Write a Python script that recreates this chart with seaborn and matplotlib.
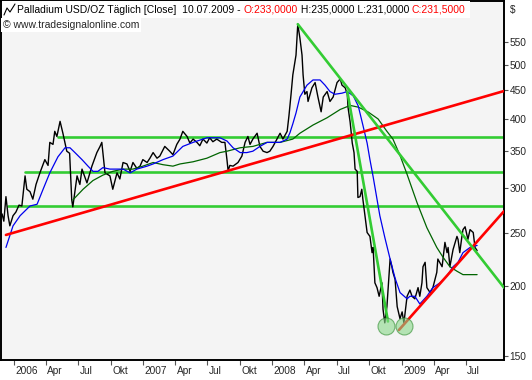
import matplotlib
matplotlib.use("Agg")
import matplotlib.pyplot as plt
import matplotlib.transforms as mtransforms
from matplotlib.lines import Line2D
from matplotlib.patches import Rectangle
import seaborn as sns
import pandas as pd

# Palladium USD/OZ daily close
price_dates = [
    "2005-11-28", "2005-12-03", "2005-12-09", "2005-12-15", "2005-12-20", "2005-12-29",
    "2006-01-06", "2006-01-15", "2006-01-23", "2006-02-01", "2006-02-06", "2006-02-15",
    "2006-02-23", "2006-03-04", "2006-03-15", "2006-03-29", "2006-04-07", "2006-04-12",
    "2006-04-21", "2006-04-26", "2006-05-02", "2006-05-11", "2006-05-19", "2006-05-30",
    "2006-06-07", "2006-06-13", "2006-06-16", "2006-06-28", "2006-07-06", "2006-07-12",
    "2006-07-26", "2006-08-09", "2006-08-23", "2006-09-01", "2006-09-06", "2006-09-15",
    "2006-09-29", "2006-10-07", "2006-10-19", "2006-10-27", "2006-11-05", "2006-11-16",
    "2006-11-25", "2006-12-03", "2006-12-14", "2006-12-23", "2006-12-31", "2007-01-12",
    "2007-01-20", "2007-01-29", "2007-02-09", "2007-02-17", "2007-03-03", "2007-03-17",
    "2007-03-26", "2007-04-06", "2007-04-15", "2007-04-23", "2007-05-05", "2007-05-13",
    "2007-05-22", "2007-06-02", "2007-06-10", "2007-06-19", "2007-06-30", "2007-07-08",
    "2007-07-17", "2007-07-28", "2007-08-11", "2007-08-20", "2007-08-26", "2007-08-29",
    "2007-09-03", "2007-09-12", "2007-09-26", "2007-10-07", "2007-10-16", "2007-10-24",
    "2007-10-30", "2007-11-07", "2007-11-19", "2007-11-27", "2007-12-06", "2007-12-17",
    "2007-12-25", "2008-01-03", "2008-01-14", "2008-01-23", "2008-01-31", "2008-02-12",
    "2008-02-17", "2008-02-23", "2008-02-28", "2008-03-08", "2008-03-13", "2008-03-19",
    "2008-03-25", "2008-03-28", "2008-04-02", "2008-04-08", "2008-04-11", "2008-04-22",
    "2008-05-01", "2008-05-09", "2008-05-18", "2008-05-24", "2008-06-04", "2008-06-12",
    "2008-06-21", "2008-07-02", "2008-07-11", "2008-07-16", "2008-07-25", "2008-07-31",
    "2008-08-02", "2008-08-08", "2008-08-14", "2008-08-19", "2008-08-22", "2008-08-28",
    "2008-08-30", "2008-09-05", "2008-09-10", "2008-09-13", "2008-09-25", "2008-10-03",
    "2008-10-09", "2008-10-12", "2008-10-17", "2008-10-23", "2008-10-29", "2008-11-06",
    "2008-11-09", "2008-11-14", "2008-11-20", "2008-11-29", "2008-12-04", "2008-12-07",
    "2008-12-13", "2008-12-19", "2008-12-27", "2009-01-02", "2009-01-07", "2009-01-16",
    "2009-01-24", "2009-01-30", "2009-02-07", "2009-02-16", "2009-02-21", "2009-02-27",
    "2009-03-02", "2009-03-08", "2009-03-13", "2009-03-22", "2009-03-30", "2009-04-10",
    "2009-04-13", "2009-04-25", "2009-05-03", "2009-05-09", "2009-05-12", "2009-05-17",
    "2009-05-26", "2009-06-06", "2009-06-09", "2009-06-14", "2009-06-20", "2009-06-23",
    "2009-06-29", "2009-07-07", "2009-07-13", "2009-07-22", "2009-07-27", "2009-08-02",
]
price_values = [
    270, 262, 290, 268, 257, 268,
    272, 280, 279, 316, 299, 296,
    287, 305, 320, 338, 330, 363,
    360, 380, 372, 396, 377, 350,
    347, 286, 278, 316, 305, 325,
    307, 329, 348, 357, 363, 320,
    316, 299, 320, 312, 334, 332,
    322, 334, 326, 329, 338, 334,
    340, 348, 340, 343, 357, 350,
    345, 360, 368, 380, 372, 362,
    368, 363, 358, 368, 362, 370,
    364, 368, 363, 363, 337, 323,
    330, 329, 334, 343, 363, 372,
    360, 368, 377, 357, 350, 348,
    350, 357, 368, 377, 368, 380,
    405, 443, 480, 521, 592, 559,
    521, 480, 443, 448, 430, 455,
    465, 438, 412, 438, 448, 430,
    438, 465, 472, 460, 455, 443,
    420, 395, 362, 348, 325, 322,
    289, 290, 299, 287, 250, 246,
    230, 235, 203, 199, 192, 203,
    182, 172, 184, 224, 217, 212,
    206, 184, 175, 180, 172, 192,
    197, 192, 190, 199, 192, 203,
    217, 221, 199, 195, 199, 212,
    224, 217, 240, 230, 235, 217,
    233, 246, 243, 230, 246, 253,
    256, 243, 253, 250, 235, 232,
]

# short moving average (blue)
ma_fast_dates = [
    "2005-12-09", "2005-12-29", "2006-01-18", "2006-02-15", "2006-03-07", "2006-03-24",
    "2006-04-12", "2006-05-05", "2006-05-25", "2006-06-08", "2006-06-22", "2006-07-12",
    "2006-07-29", "2006-08-12", "2006-08-26", "2006-09-09", "2006-09-29", "2006-10-19",
    "2006-11-05", "2006-11-25", "2006-12-14", "2007-01-12", "2007-01-29", "2007-02-26",
    "2007-03-26", "2007-04-23", "2007-05-22", "2007-06-30", "2007-08-06", "2007-08-26",
    "2007-09-12", "2007-10-02", "2007-10-21", "2007-11-07", "2007-11-27", "2007-12-17",
    "2008-01-03", "2008-01-23", "2008-02-12", "2008-02-20", "2008-02-28", "2008-03-08",
    "2008-03-19", "2008-04-08", "2008-04-25", "2008-05-15", "2008-05-29", "2008-06-12",
    "2008-06-26", "2008-07-16", "2008-07-31", "2008-08-17", "2008-08-31", "2008-09-13",
    "2008-09-25", "2008-10-03", "2008-10-12", "2008-10-31", "2008-11-14", "2008-11-29",
    "2008-12-13", "2008-12-27", "2009-01-16", "2009-01-24", "2009-02-07", "2009-02-21",
    "2009-03-13", "2009-03-30", "2009-04-19", "2009-05-09", "2009-05-26", "2009-06-09",
    "2009-06-23", "2009-07-13", "2009-08-02",
]
ma_fast_values = [
    235, 257, 268, 279, 281, 299,
    320, 342, 355, 355, 348, 338,
    329, 322, 322, 327, 325, 325,
    325, 320, 325, 329, 332, 338,
    343, 357, 363, 370, 370, 365,
    355, 348, 348, 350, 357, 363,
    363, 363, 368, 378, 392, 410,
    438, 460, 470, 470, 460, 448,
    443, 445, 448, 440, 422, 390,
    362, 338, 315, 268, 245, 224,
    207, 195, 190, 192, 192, 186,
    192, 199, 203, 209, 217, 221,
    230, 235, 237,
]

# long moving average (dark green)
ma_slow_dates = [
    "2006-06-16", "2006-07-15", "2006-08-12", "2006-09-09", "2006-10-07", "2006-11-05",
    "2006-12-03", "2006-12-31", "2007-01-29", "2007-02-26", "2007-03-26", "2007-04-15",
    "2007-05-22", "2007-06-30", "2007-08-06", "2007-08-26", "2007-10-02", "2007-11-07",
    "2007-12-17", "2008-01-23", "2008-02-28", "2008-03-19", "2008-04-25", "2008-06-04",
    "2008-07-11", "2008-08-08", "2008-08-31", "2008-09-27", "2008-10-26", "2008-11-20",
    "2008-12-07", "2008-12-27", "2009-01-16", "2009-02-13", "2009-03-13", "2009-04-10",
    "2009-04-27", "2009-05-17", "2009-06-06", "2009-06-23", "2009-08-02",
]
ma_slow_values = [
    286, 299, 310, 317, 322, 325,
    325, 329, 334, 331, 329, 332,
    335, 340, 348, 350, 355, 357,
    363, 363, 368, 377, 390, 402,
    416, 423, 420, 412, 400, 380,
    368, 344, 318, 283, 255, 235,
    226, 217, 213, 210, 210,
]

# horizontal support / resistance levels (green) and their start dates
level_values = [371, 321, 279]
level_starts = ["2006-05-05", "2006-02-01", "2005-12-15"]

# drawn trend lines: (start date, end date, start value, end value)
red_lines = [
    ("2005-12-09", "2009-10-17", 247.5, 449),
    ("2008-12-24", "2009-10-17", 167, 273),
]
green_lines = [
    ("2008-03-13", "2009-10-17", 592, 199),
    ("2008-07-31", "2008-11-23", 448, 173),
]

# double bottom markers
bottom_dates = ["2008-11-17", "2009-01-07"]
bottom_values = [170, 170]

y_ticks = [150, 200, 250, 300, 350, 400, 450, 500, 550]
x_tick_dates = [
    "2006-01-01", "2006-04-01", "2006-07-01", "2006-10-01",
    "2007-01-01", "2007-04-01", "2007-07-01", "2007-10-01",
    "2008-01-01", "2008-04-01", "2008-07-01", "2008-10-01",
    "2009-01-01", "2009-04-01", "2009-07-01",
]
x_tick_labels = ["2006", "Apr", "Jul", "Okt", "2007", "Apr", "Jul", "Okt",
                 "2008", "Apr", "Jul", "Okt", "2009", "Apr", "Jul"]

sns.set_style("white")
plt.rcParams["font.family"] = ["Liberation Sans", "DejaVu Sans"]

W, H = 532, 380
fig = plt.figure(figsize=(W / 100, H / 100), dpi=100)
ax = fig.add_axes([1 / W, 20 / H, 503 / W, 359.5 / H])
ax.set_facecolor("#f4f4f4")

x_left = pd.Timestamp("2005-11-25")
x_right = pd.Timestamp("2009-10-17")

# horizontal levels
for lvl, start in zip(level_values, level_starts):
    ax.plot([pd.Timestamp(start), x_right], [lvl, lvl], color="#33cc33", lw=1.9, zorder=2)

price = pd.DataFrame({"date": pd.to_datetime(price_dates), "close": price_values})
fast = pd.DataFrame({"date": pd.to_datetime(ma_fast_dates), "ma": ma_fast_values})
slow = pd.DataFrame({"date": pd.to_datetime(ma_slow_dates), "ma": ma_slow_values})

sns.lineplot(data=price, x="date", y="close", ax=ax, color="black", lw=1.0, zorder=3)
sns.lineplot(data=slow, x="date", y="ma", ax=ax, color="#006400", lw=0.9, zorder=4)
sns.lineplot(data=fast, x="date", y="ma", ax=ax, color="#0000ee", lw=0.9, zorder=4)

for d0, d1, v0, v1 in red_lines:
    ax.plot(pd.to_datetime([d0, d1]), [v0, v1], color="#ff0000", lw=1.9, zorder=5)
for d0, d1, v0, v1 in green_lines:
    ax.plot(pd.to_datetime([d0, d1]), [v0, v1], color="#33cc33", lw=1.9, zorder=5)

sns.scatterplot(x=pd.to_datetime(bottom_dates), y=bottom_values, ax=ax, s=150,
                color="#8ad88a", edgecolor="#2e8b2e", linewidth=0.8, alpha=0.6, zorder=6)

ax.set_yscale("log")
ax.set_ylim(147.5, 653)
ax.set_xlim(x_left, x_right)
ax.set_xlabel("")
ax.set_ylabel("")

ax.yaxis.tick_right()
ax.set_yticks(y_ticks)
ax.set_yticklabels([str(v) for v in y_ticks])
ax.yaxis.set_minor_locator(matplotlib.ticker.NullLocator())
ax.tick_params(axis="y", which="major", direction="out", length=3, width=0.8,
               pad=1, labelsize=7.3, right=True, left=False, color="#555555")

ax.set_xticks(pd.to_datetime(x_tick_dates))
ax.set_xticklabels(x_tick_labels)
ax.tick_params(axis="x", direction="out", length=3.5, width=0.8, pad=0.5,
               labelsize=7.3, bottom=True, color="#555555")
shift = mtransforms.ScaledTranslation(1.5 / 100, 0, fig.dpi_scale_trans)
for lbl in ax.get_xticklabels():
    lbl.set_horizontalalignment("left")
    lbl.set_transform(lbl.get_transform() + shift)

for sp in ax.spines.values():
    sp.set_color("black")
    sp.set_linewidth(1.4)

# header
fig.canvas.draw()
renderer = fig.canvas.get_renderer()
pieces = [
    ("Palladium USD/OZ Täglich [Close]  10.07.2009 - ", "black"),
    ("O:233,0000", "#ff0000"),
    (" H:235,0000 L:231,0000 ", "black"),
    ("C:231,5000", "#ff0000"),
]
xpos = 17
for text, col in pieces:
    t = fig.text(xpos / W, 1 - 10 / H, text, color=col, fontsize=7.5, va="center",
                 ha="left", zorder=5)
    xpos += t.get_window_extent(renderer).width
fig.add_artist(Rectangle((2 / W, 1 - 18 / H), (xpos + 2) / W, 17 / H,
                         transform=fig.transFigure, facecolor="white",
                         edgecolor="none", zorder=4))
fig.text(3 / W, 1 - 25 / H, "© www.tradesignalonline.com", fontsize=7.5, va="center",
         ha="left", zorder=5, bbox=dict(facecolor="white", edgecolor="none", pad=1.5))
fig.text(510 / W, 1 - 10 / H, "$", fontsize=7.3, va="center", ha="left")
fig.add_artist(Line2D([4 / W, 7 / W, 10 / W, 15 / W],
                      [1 - 15 / H, 1 - 8 / H, 1 - 12 / H, 1 - 4 / H],
                      transform=fig.transFigure, color="black", lw=0.8, zorder=6))

fig.savefig("out.png", dpi=100)
